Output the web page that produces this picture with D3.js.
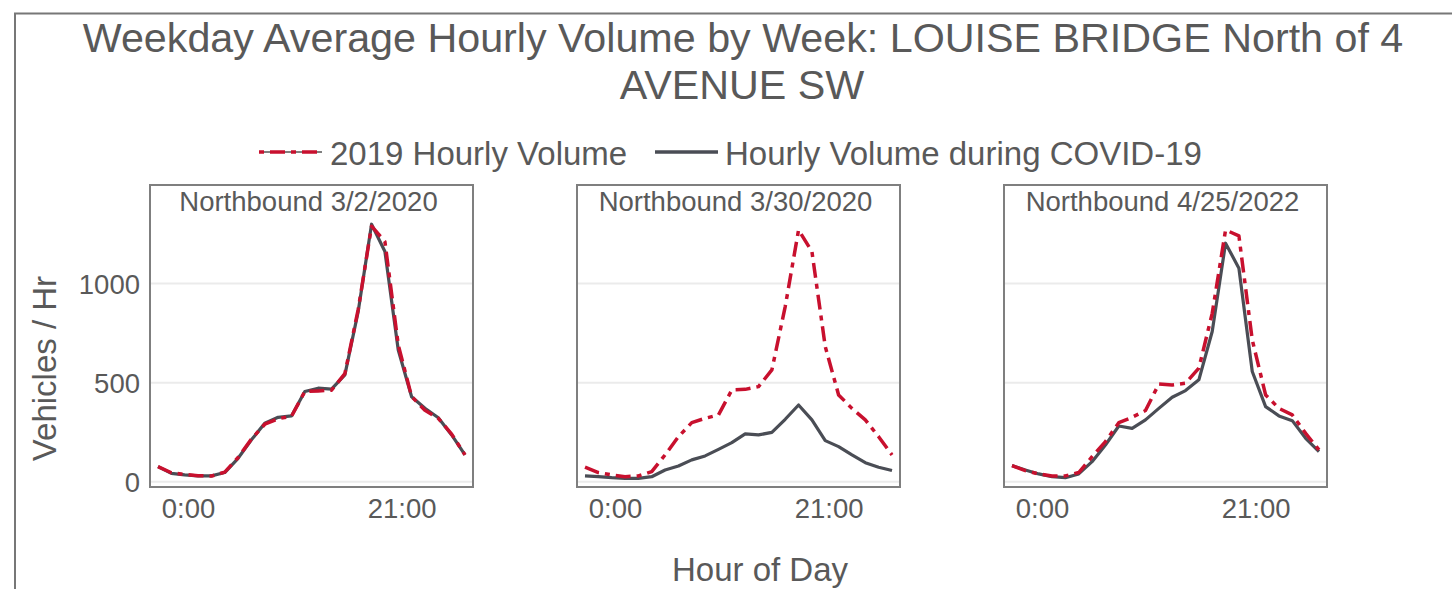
<!DOCTYPE html>
<html><head><meta charset="utf-8">
<script src="https://cdn.jsdelivr.net/npm/d3@7"></script>
<style>
body{margin:0;background:#fff}
svg{display:block}
text{font-family:"Liberation Sans",Arial,sans-serif;fill:#595959}
</style>
</head><body>
<svg id="c" width="1452" height="589"></svg>
<script>
// ---------------- data ----------------
const hours = [0,1,2,3,4,5,6,7,8,9,10,11,12,13,14,15,16,17,18,19,20,21,22,23];
const panelTitles = ["Northbound 3/2/2020","Northbound 3/30/2020","Northbound 4/25/2022"];
const xTickHours = [2.25, 18.25];
const xTickLabels = ["0:00","21:00"];
const yTicks = [0, 500, 1000];
const seriesNames = ["2019 Hourly Volume","Hourly Volume during COVID-19"];

const vol2019_p1 = [76,45,36,30,28,48,122,215,290,318,330,455,458,462,545,870,1290,1212,690,430,360,320,240,135];
const volCovid_p1 = [76,42,34,29,29,46,118,211,295,325,332,455,472,467,539,860,1300,1162,665,429,371,323,236,135];
const vol2019_p2 = [73,46,34,25,29,51,135,227,298,320,337,463,466,480,564,884,1271,1162,682,438,370,312,227,135];
const volCovid_p2 = [29,25,20,17,17,25,59,79,110,130,163,197,241,236,249,315,387,312,207,177,135,96,73,56];
const vol2019_p3 = [81,56,39,29,29,46,126,202,298,325,359,493,488,497,573,850,1271,1241,716,438,370,337,244,160];
const volCovid_p3 = [81,59,39,25,20,39,101,185,281,269,312,370,426,460,514,758,1204,1078,556,379,332,308,219,152];

const vol2019 = [vol2019_p1, vol2019_p2, vol2019_p3];
const volCovid = [volCovid_p1, volCovid_p2, volCovid_p3];

// ---------------- layout ----------------
const RED = "#c8102e", DARK = "#4a4d55";
const svg = d3.select("#c");
const panelX = [150, 577, 1004], panelW = 323;
const panelTop = 185, panelBottom = 487;

// frame
svg.append("rect").attr("x",15).attr("y",13.5).attr("width",1600).attr("height",700)
  .attr("fill","none").attr("stroke","#777").attr("stroke-width",2);

// title
const title = svg.append("text").attr("text-anchor","middle").style("font-size","41.25px");
title.append("tspan").attr("x",743).attr("y",52).text("Weekday Average Hourly Volume by Week: LOUISE BRIDGE North of 4");
title.append("tspan").attr("x",742).attr("y",99).text("AVENUE SW");

// legend
const lg = svg.append("g");
lg.append("line").attr("x1",259).attr("x2",322).attr("y1",152).attr("y2",152).attr("stroke","#000").attr("stroke-width",1);
lg.append("line").attr("x1",259).attr("x2",322).attr("y1",152).attr("y2",152)
  .attr("stroke",RED).attr("stroke-width",3.5).attr("stroke-dasharray","5,6,15,6");
lg.append("text").attr("x",330).attr("y",165).style("font-size","33px").text(seriesNames[0]);
lg.append("line").attr("x1",655).attr("x2",718).attr("y1",152).attr("y2",152)
  .attr("stroke",DARK).attr("stroke-width",3.5);
lg.append("text").attr("x",725).attr("y",165).style("font-size","33px").text(seriesNames[1]);

const y = d3.scaleLinear().domain([-27, 1498]).range([panelBottom, panelTop]);

panelTitles.forEach((pt, i) => {
  const x0 = panelX[i];
  const x = d3.scaleLinear().domain([-0.6, 23.6]).range([x0, x0 + panelW]);
  const g = svg.append("g");
  // gridlines
  g.selectAll("line.grid").data(yTicks).enter().append("line")
    .attr("x1", x0).attr("x2", x0 + panelW)
    .attr("y1", d => y(d)).attr("y2", d => y(d))
    .attr("stroke","#ebebeb").attr("stroke-width",2);
  // lines
  const line = d3.line().x((d,j) => x(hours[j])).y(d => y(d));
  g.append("path").datum(volCovid[i]).attr("d", line)
    .attr("fill","none").attr("stroke",DARK).attr("stroke-width",3.2).attr("stroke-linejoin","round");
  g.append("path").datum(vol2019[i]).attr("d", line)
    .attr("fill","none").attr("stroke",RED).attr("stroke-width",3.5)
    .attr("stroke-dasharray","15,6,5,6").attr("stroke-linejoin","round");
  // box
  g.append("rect").attr("x", x0).attr("y", panelTop).attr("width", panelW).attr("height", panelBottom - panelTop)
    .attr("fill","none").attr("stroke","#7f7f7f").attr("stroke-width",2);
  // strip title
  g.append("text").attr("x", x0 + panelW/2 - 3).attr("y", 211).attr("text-anchor","middle")
    .style("font-size","27.5px").text(pt);
  // x axis
  const xAxis = d3.axisBottom(x).tickValues(xTickHours).tickFormat((d,k) => xTickLabels[k]).tickSize(0).tickPadding(0);
  const ax = g.append("g").attr("transform", `translate(0,${panelBottom})`).call(xAxis);
  ax.select(".domain").remove();
  ax.selectAll("text").attr("dy", null).attr("y", 31).style("font-size","27.5px")
    .style("font-family",'"Liberation Sans",Arial,sans-serif').attr("fill","#595959");
  if (i === 0) {
    const yAxis = d3.axisLeft(y).tickValues(yTicks).tickFormat(d3.format("d")).tickSize(0).tickPadding(0);
    const ay = g.append("g").attr("transform", `translate(${140},0)`).call(yAxis);
    ay.select(".domain").remove();
    ay.selectAll("text").attr("dy","0.36em").style("font-size","27.5px")
      .style("font-family",'"Liberation Sans",Arial,sans-serif').attr("fill","#595959");
  }
});

// axis titles
svg.append("text").attr("transform","translate(56,368.5) rotate(-90)").attr("text-anchor","middle")
  .style("font-size","33px").text("Vehicles / Hr");
svg.append("text").attr("x",760).attr("y",581).attr("text-anchor","middle")
  .style("font-size","33px").text("Hour of Day");
</script>
</body></html>
